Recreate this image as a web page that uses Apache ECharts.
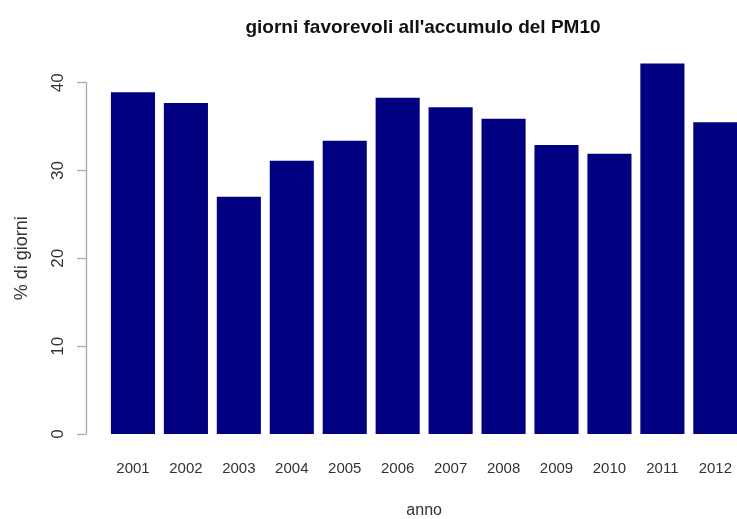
<!DOCTYPE html>
<html>
<head>
<meta charset="utf-8">
<script src="https://cdn.jsdelivr.net/npm/echarts@6/dist/echarts.min.js"></script>
<style>html,body{margin:0;padding:0;background:#fff}#c{width:737px;height:519px}</style>
</head>
<body>
<div id="c"></div>
<script>
var years = ['2001','2002','2003','2004','2005','2006','2007','2008','2009','2010','2011','2012'];
var values = [38.9, 37.7, 27.0, 31.1, 33.4, 38.3, 37.2, 35.9, 32.9, 31.9, 42.2, 35.5];
var yTicks = [0, 10, 20, 30, 40];
var titleText = "giorni favorevoli all'accumulo del PM10";
var xName = 'anno';
var yName = '% di giorni';

var font = 'Liberation Sans, Arial, Helvetica, sans-serif';
var chart = echarts.init(document.getElementById('c'), null, {renderer: 'canvas'});
chart.setOption({
  animation: false,
  backgroundColor: '#ffffff',
  title: {
    text: titleText,
    left: 418, top: 13, textAlign: 'center',
    textStyle: {fontFamily: font, fontWeight: 'bold', fontSize: 19, color: '#111'}
  },
  grid: {left: 106.5, right: -4.8, top: 82.7, bottom: 85, containLabel: false, outerBoundsMode: 'none'},
  xAxis: {
    type: 'category',
    data: years,
    axisLine: {show: false},
    axisTick: {show: false},
    axisLabel: {margin: 27, fontFamily: font, fontSize: 15, color: '#333'},
    name: xName,
    nameLocation: 'middle',
    nameGap: 69,
    nameTextStyle: {fontFamily: font, fontSize: 16, color: '#333'}
  },
  yAxis: {
    type: 'value',
    offset: 20.5,
    min: yTicks[0], max: yTicks[yTicks.length - 1], interval: 10,
    splitLine: {show: false},
    axisLine: {show: true, lineStyle: {color: '#aaa', width: 1.3}},
    axisTick: {show: true, length: 9, lineStyle: {color: '#aaa', width: 1.3}},
    axisLabel: {rotate: 90, margin: 19, fontFamily: font, fontSize: 17, color: '#333'},
    name: yName,
    nameLocation: 'middle',
    nameRotate: 90,
    nameGap: 55,
    nameTextStyle: {fontFamily: font, fontSize: 18, color: '#333'}
  },
  series: [{
    type: 'bar',
    data: values,
    clip: false,
    barCategoryGap: '16.7%',
    itemStyle: {color: '#000080'}
  }]
});
</script>
</body>
</html>
